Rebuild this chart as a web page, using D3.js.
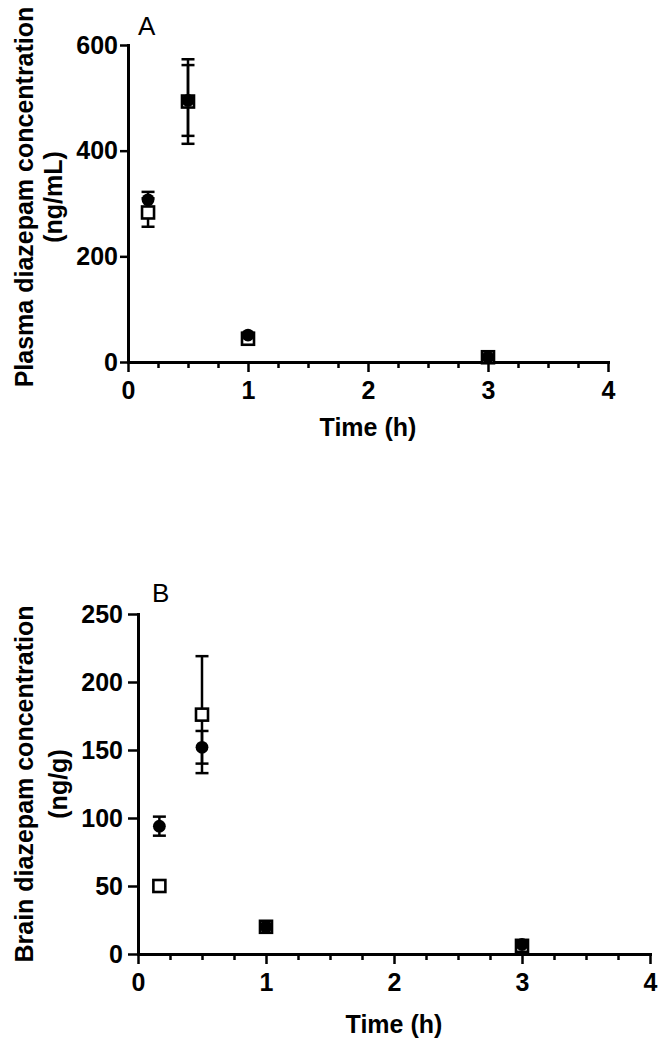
<!DOCTYPE html>
<html>
<head>
<meta charset="utf-8">
<title>Diazepam concentration</title>
<script src="https://cdn.jsdelivr.net/npm/d3@7"></script>
<style>
  body { margin: 0; background: #fff; }
  text { font-family: Arial, "Liberation Sans", sans-serif; fill: #000; }
</style>
</head>
<body>
<div id="chart"></div>
<script>
// sampling times (h)
var times = [0.167, 0.5, 1, 3];

// panel A: plasma (ng/mL), mean and error
var plasmaCircle = [307, 495, 51, 9];
var plasmaCircleErr = [15, 67, 4, 2];
var plasmaSquare = [283, 493, 44, 9];
var plasmaSquareErr = [27, 80, 4, 2];

// panel B: brain (ng/g)
var brainCircle = [94, 152, 20, 7];
var brainCircleErr = [7, 12, 2, 1];
var brainSquare = [50, 176, 20, 6];
var brainSquareErr = [3, 43, 2, 1];

// tick labels
var xTicks = [0, 1, 2, 3, 4];
var xMinorTicks = [0.25, 0.5, 0.75, 1.25, 1.5, 1.75, 2.25, 2.5, 2.75, 3.25, 3.5, 3.75];
var yTicksA = [0, 200, 400, 600];
var yTicksB = [0, 50, 100, 150, 200, 250];

var svg = d3.select("#chart").append("svg")
    .attr("width", 666)
    .attr("height", 1050);

function drawPanel(p) {
  var x = d3.scaleLinear().domain([0, 4]).range([p.left, p.right]);
  var y = d3.scaleLinear().domain([0, p.yMax]).range([p.bottom, p.top]);
  var g = svg.append("g");

  // minor x ticks
  g.append("g")
    .attr("transform", "translate(0," + p.bottom + ")")
    .call(d3.axisBottom(x).tickValues(xMinorTicks).tickSize(6).tickFormat(""))
    .call(function(a) { a.select(".domain").remove(); });

  // major x axis
  var xa = g.append("g")
    .attr("transform", "translate(0," + p.bottom + ")")
    .call(d3.axisBottom(x).tickValues(xTicks).tickSizeInner(10).tickSizeOuter(0).tickPadding(9).tickFormat(d3.format("d")));

  var ya = g.append("g")
    .attr("transform", "translate(" + p.left + ",0)")
    .call(d3.axisLeft(y).tickValues(p.yTicks).tickSizeInner(p.yTickSize).tickSizeOuter(0).tickPadding(p.yPad).tickFormat(d3.format("d")));

  g.selectAll(".domain").attr("stroke-width", 3).attr("stroke", "#000");
  g.selectAll(".tick line").attr("stroke-width", 2.5).attr("stroke", "#000");
  g.selectAll(".tick text")
    .style("font-size", "25px")
    .style("font-weight", "bold")
    .style("font-family", "Arial, 'Liberation Sans', sans-serif")
    .attr("fill", "#000");
  g.selectAll(".domain").attr("stroke-linecap", "square");

  // error bars
  var series = [
    {mean: p.square, err: p.squareErr},
    {mean: p.circle, err: p.circleErr}
  ];
  series.forEach(function(s) {
    var eb = g.append("g").attr("stroke", "#000").attr("stroke-width", 2.5);
    times.forEach(function(t, i) {
      var cx = x(t);
      var y1 = y(s.mean[i] + s.err[i]);
      var y2 = y(s.mean[i] - s.err[i]);
      eb.append("line").attr("x1", cx).attr("x2", cx).attr("y1", y1).attr("y2", y2);
      eb.append("line").attr("x1", cx - 6.5).attr("x2", cx + 6.5).attr("y1", y1).attr("y2", y1);
      eb.append("line").attr("x1", cx - 6.5).attr("x2", cx + 6.5).attr("y1", y2).attr("y2", y2);
    });
  });

  // open squares
  g.selectAll(".sq")
    .data(times)
    .enter()
    .append("rect")
    .attr("x", function(d) { return x(d) - 6; })
    .attr("y", function(d, i) { return y(p.square[i]) - 6; })
    .attr("width", 12)
    .attr("height", 12)
    .attr("fill", "#fff")
    .attr("stroke", "#000")
    .attr("stroke-width", 2.6);

  // filled circles
  g.selectAll(".ci")
    .data(times)
    .enter()
    .append("circle")
    .attr("cx", function(d) { return x(d); })
    .attr("cy", function(d, i) { return y(p.circle[i]); })
    .attr("r", 6.4)
    .attr("fill", "#000");

  // panel letter
  g.append("text")
    .attr("x", p.left + p.letterDx)
    .attr("y", p.letterY)
    .style("font-size", "26px")
    .text(p.letter);

  // x title
  g.append("text")
    .attr("x", (p.left + p.right) / 2)
    .attr("y", p.xTitleY)
    .attr("text-anchor", "middle")
    .style("font-size", "25px")
    .style("font-weight", "bold")
    .text("Time (h)");

  // y title, two lines
  var cy = p.yTitleCenter;
  var yt = g.append("text")
    .attr("transform", "rotate(-90)")
    .attr("text-anchor", "middle")
    .style("font-size", "25px")
    .style("font-weight", "bold");
  yt.append("tspan").attr("x", -cy).attr("y", 33).text(p.yTitle1);
  yt.append("tspan").attr("x", -cy).attr("y", p.yTitle2Base).text(p.yTitle2);
}

drawPanel({
  left: 128, right: 608, top: 45, bottom: 362, yMax: 600,
  yTicks: yTicksA, yTickSize: 8, yPad: 2,
  circle: plasmaCircle, circleErr: plasmaCircleErr,
  square: plasmaSquare, squareErr: plasmaSquareErr,
  letter: "A", letterDx: 10, letterY: 35,
  xTitleY: 436, yTitleCenter: 197,
  yTitle1: "Plasma diazepam concentration", yTitle2: "(ng/mL)", yTitle2Base: 62
});

drawPanel({
  left: 138, right: 650, top: 614, bottom: 954, yMax: 250,
  yTicks: yTicksB, yTickSize: 10, yPad: 5,
  circle: brainCircle, circleErr: brainCircleErr,
  square: brainSquare, squareErr: brainSquareErr,
  letter: "B", letterDx: 14, letterY: 602,
  xTitleY: 1033, yTitleCenter: 784,
  yTitle1: "Brain diazepam concentration", yTitle2: "(ng/g)", yTitle2Base: 67
});
</script>
</body>
</html>
